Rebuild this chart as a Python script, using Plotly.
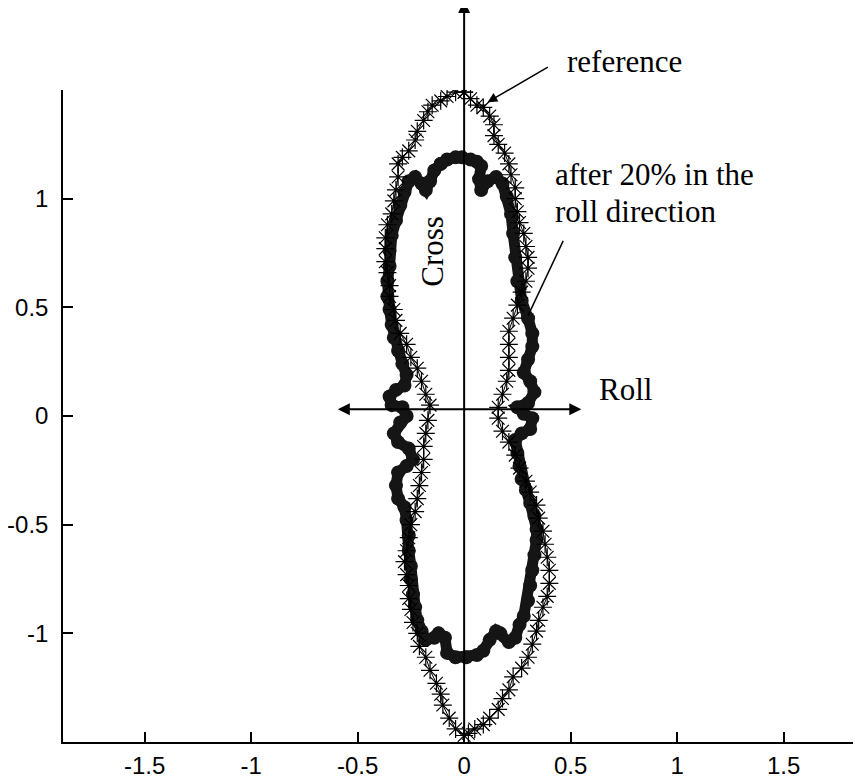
import plotly.graph_objects as go

# ---- reference curve (asterisks) ----
ref_x = [0.00, 0.03, 0.06, 0.09, 0.12, 0.14, 0.14, 0.16, 0.19, 0.21, 0.22, 0.24, 0.24, 0.25, 0.26, 0.28,
         0.29, 0.30, 0.30, 0.29, 0.27, 0.25, 0.23, 0.21, 0.21, 0.21, 0.21, 0.20, 0.18, 0.16, 0.16, 0.18,
         0.21, 0.24, 0.26, 0.29, 0.31, 0.34, 0.35, 0.37, 0.38, 0.39, 0.40, 0.40, 0.39, 0.37, 0.35, 0.34,
         0.32, 0.30, 0.27, 0.23, 0.21, 0.18, 0.16, 0.12, 0.09, 0.05, 0.02, 0.00,
         -0.04, -0.07, -0.10, -0.11, -0.13, -0.16, -0.18, -0.21, -0.22, -0.24, -0.25, -0.26, -0.26, -0.27,
         -0.28, -0.27, -0.26, -0.25, -0.23, -0.22, -0.21, -0.20, -0.19, -0.19, -0.18, -0.17, -0.16, -0.18,
         -0.20, -0.22, -0.25, -0.27, -0.30, -0.32, -0.33, -0.35, -0.35, -0.36, -0.37, -0.37, -0.37, -0.36,
         -0.34, -0.33, -0.32, -0.31, -0.31, -0.29, -0.26, -0.23, -0.22, -0.19, -0.17, -0.15, -0.11, -0.08,
         -0.04, 0.00]
ref_y = [1.49, 1.46, 1.43, 1.42, 1.38, 1.34, 1.29, 1.25, 1.21, 1.16, 1.11, 1.05, 1.00, 0.94, 0.89, 0.84,
         0.78, 0.73, 0.68, 0.62, 0.57, 0.51, 0.45, 0.39, 0.33, 0.27, 0.21, 0.16, 0.10, 0.04, -0.01, -0.07,
         -0.12, -0.18, -0.24, -0.30, -0.35, -0.41, -0.47, -0.53, -0.59, -0.65, -0.71, -0.77, -0.83, -0.88,
         -0.94, -0.99, -1.05, -1.11, -1.16, -1.20, -1.26, -1.30, -1.35, -1.39, -1.42, -1.44, -1.46, -1.47,
         -1.44, -1.39, -1.33, -1.28, -1.23, -1.17, -1.11, -1.06, -1.00, -0.95, -0.89, -0.84, -0.78, -0.73,
         -0.67, -0.62, -0.56, -0.50, -0.44, -0.38, -0.32, -0.26, -0.20, -0.14, -0.08, -0.02, 0.05, 0.10,
         0.16, 0.22, 0.27, 0.33, 0.38, 0.44, 0.49, 0.55, 0.60, 0.66, 0.71, 0.77, 0.82, 0.88,
         0.93, 0.99, 1.04, 1.10, 1.16, 1.19, 1.22, 1.27, 1.31, 1.36, 1.40, 1.43, 1.45, 1.47,
         1.49, 1.49]

# ---- after 20% in the roll direction (filled dots) ----
roll_x = [-0.11, -0.08, -0.04, -0.01, 0.03, 0.06, 0.08, 0.07, 0.08, 0.11, 0.15, 0.18, 0.20, 0.22, 0.23,
          0.24, 0.25, 0.27, 0.30, 0.32, 0.32, 0.30, 0.28, 0.31, 0.33, 0.30, 0.25, 0.28, 0.32, 0.31, 0.27,
          0.24, 0.25, 0.26, 0.27, 0.29, 0.31, 0.33, 0.34, 0.34, 0.33, 0.32, 0.31, 0.30, 0.28, 0.26, 0.24,
          0.21, 0.17, 0.15, 0.12, 0.09, 0.06, 0.01, -0.04, -0.08,
          -0.09, -0.12, -0.14, -0.18, -0.20, -0.22, -0.23, -0.24, -0.25, -0.25, -0.26, -0.26, -0.27, -0.28,
          -0.31, -0.32, -0.31, -0.27, -0.24, -0.26, -0.31, -0.33, -0.30, -0.27, -0.29, -0.34, -0.35, -0.32,
          -0.28, -0.27, -0.29, -0.31, -0.33, -0.34, -0.35, -0.36, -0.36, -0.35, -0.35, -0.34, -0.32, -0.30,
          -0.28, -0.26, -0.23, -0.20, -0.18, -0.16, -0.14, -0.11]
roll_y = [1.16, 1.18, 1.19, 1.19, 1.18, 1.17, 1.15, 1.09, 1.04, 1.08, 1.10, 1.07, 1.01, 0.93, 0.84,
          0.73, 0.62, 0.53, 0.45, 0.38, 0.32, 0.26, 0.20, 0.16, 0.11, 0.06, 0.04, 0.01, -0.01, -0.06, -0.08,
          -0.11, -0.17, -0.23, -0.29, -0.34, -0.40, -0.46, -0.52, -0.57, -0.64, -0.71, -0.78, -0.85, -0.92,
          -0.96, -1.02, -1.04, -1.00, -0.99, -1.03, -1.08, -1.10, -1.11, -1.11, -1.09,
          -1.02, -1.00, -1.02, -1.03, -0.99, -0.94, -0.88, -0.82, -0.75, -0.69, -0.62, -0.55, -0.48, -0.42,
          -0.38, -0.32, -0.26, -0.23, -0.20, -0.15, -0.12, -0.08, -0.03, 0.00, 0.04, 0.05, 0.09, 0.12,
          0.14, 0.19, 0.24, 0.30, 0.36, 0.42, 0.49, 0.55, 0.62, 0.69, 0.76, 0.83, 0.90, 0.97,
          1.03, 1.08, 1.10, 1.07, 1.04, 1.08, 1.13, 1.16]

x_ticks = [-1.5, -1, -0.5, 0, 0.5, 1, 1.5]
x_tick_text = ["-1.5", "-1", "-0.5", "0", "0.5", "1", "1.5"]
y_ticks = [-1, -0.5, 0, 0.5, 1]
y_tick_text = ["-1", "-0.5", "0", "0.5", "1"]

fig = go.Figure()
fig.add_trace(go.Scatter(
    x=roll_x, y=roll_y, mode="lines+markers",
    line=dict(color="#151515", width=11),
    marker=dict(symbol="circle", size=14, color="#151515"),
    showlegend=False, hoverinfo="skip"))
fig.add_trace(go.Scatter(
    x=ref_x, y=ref_y, mode="lines+markers",
    line=dict(color="black", width=1),
    marker=dict(symbol="asterisk-open", size=15, line=dict(color="black", width=1.2)),
    showlegend=False, hoverinfo="skip"))

serif = "Liberation Serif, Times New Roman, serif"
annotations = [
    # vertical "Cross" arrow
    dict(x=0, y=1.91, ax=0, ay=-1.48, xref="x", yref="y", axref="x", ayref="y",
         showarrow=True, arrowhead=2, arrowsize=1.2, arrowwidth=2, arrowcolor="black", text=""),
    # horizontal "Roll" double arrow
    dict(x=0.55, y=0.031, ax=-0.60, ay=0.031, xref="x", yref="y", axref="x", ayref="y",
         showarrow=True, arrowhead=2, startarrowhead=2, arrowside="end+start",
         arrowsize=1.2, startarrowsize=1.2, arrowwidth=2, arrowcolor="black", text=""),
    # arrow pointing to reference curve
    dict(x=0.11, y=1.444, ax=0.40, ay=1.609, xref="x", yref="y", axref="x", ayref="y",
         showarrow=True, arrowhead=2, arrowsize=1.3, arrowwidth=1.5, arrowcolor="black", text=""),
    dict(x=0.629, y=1.043, xref="paper", yref="paper", text="reference", showarrow=False,
         xanchor="left", yanchor="middle", font=dict(family=serif, size=31, color="black")),
    dict(x=0.614, y=0.870, xref="paper", yref="paper", text="after 20% in the",
         showarrow=False, xanchor="left", yanchor="middle",
         font=dict(family=serif, size=31, color="black")),
    dict(x=0.614, y=0.813, xref="paper", yref="paper", text="roll direction",
         showarrow=False, xanchor="left", yanchor="middle",
         font=dict(family=serif, size=31, color="black")),
    dict(x=0.669, y=0.54, xref="paper", yref="paper", text="Roll", showarrow=False,
         xanchor="left", yanchor="middle", font=dict(family=serif, size=31, color="black")),
    dict(x=0.462, y=0.753, xref="paper", yref="paper", text="Cross", showarrow=False, textangle=-90,
         xanchor="center", yanchor="middle", font=dict(family=serif, size=31, color="black")),
]

fig.add_shape(type="line", x0=0.465, y0=0.806, x1=0.30, y1=0.462, xref="x", yref="y",
              line=dict(color="black", width=1.5))

# the page adds an 8px body margin, so the figure is 8px smaller and its margins 8px less
fig.update_layout(
    width=853, height=771,
    margin=dict(l=55, r=0, t=82, b=37),
    paper_bgcolor="white", plot_bgcolor="white",
    annotations=annotations,
    xaxis=dict(range=[-1.883, 1.863], showgrid=False, zeroline=False, showline=True,
               linecolor="black", linewidth=1.5, ticks="inside", ticklen=10, tickwidth=1.5,
               tickcolor="black", tickvals=x_ticks, ticktext=x_tick_text, automargin=False,
               tickfont=dict(family="Liberation Sans, Arial, sans-serif", size=24, color="black"),
               ticklabelstandoff=1),
    yaxis=dict(range=[-1.5, 1.5], showgrid=False, zeroline=False, showline=True,
               linecolor="black", linewidth=1.5, ticks="inside", ticklen=10, tickwidth=1.5,
               tickcolor="black", tickvals=y_ticks, ticktext=y_tick_text, automargin=False,
               tickfont=dict(family="Liberation Sans, Arial, sans-serif", size=24, color="black"),
               ticklabelstandoff=8),
)

fig.write_html("out.html")
